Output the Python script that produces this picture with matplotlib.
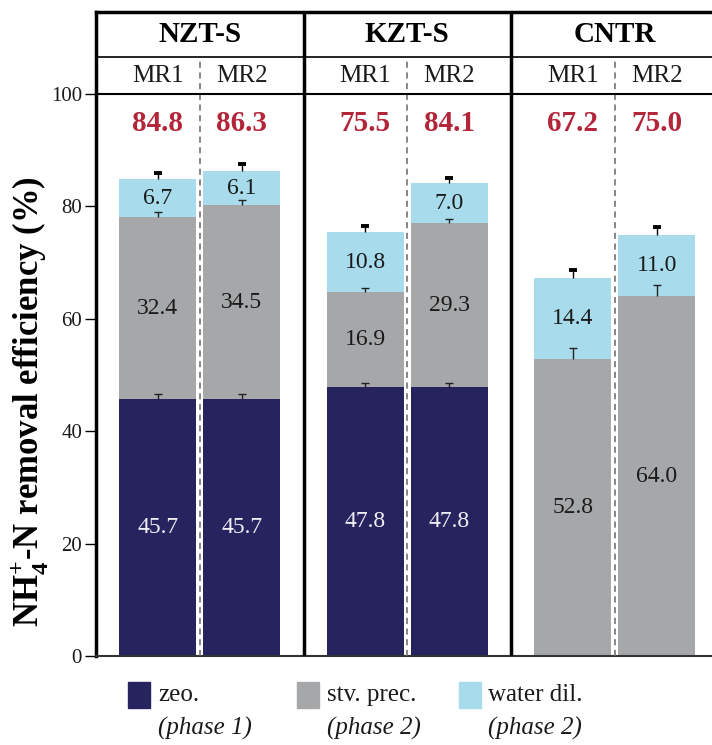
import numpy as np
import matplotlib.pyplot as plt
from matplotlib.patches import Rectangle

plt.rcParams['font.family'] = ['Liberation Serif', 'DejaVu Serif']
plt.rcParams['mathtext.fontset'] = 'custom'
plt.rcParams['mathtext.rm'] = 'Liberation Serif'
plt.rcParams['mathtext.bf'] = 'Liberation Serif:bold'

groups = ['NZT-S', 'KZT-S', 'CNTR']
reactors = ['MR1', 'MR2']

# removal share per step, order: NZT-S MR1, MR2, KZT-S MR1, MR2, CNTR MR1, MR2
zeo = [45.7, 45.7, 47.8, 47.8, 0.0, 0.0]
stv = [32.4, 34.5, 16.9, 29.3, 52.8, 64.0]
water = [6.7, 6.1, 10.8, 7.0, 14.4, 11.0]
totals = [84.8, 86.3, 75.5, 84.1, 67.2, 75.0]

zeo_err = [1.0, 1.0, 0.8, 0.8, 0.0, 0.0]
stv_err = [0.9, 0.9, 0.8, 0.7, 2.0, 2.0]
tot_err = [1.2, 1.2, 1.0, 0.9, 1.4, 1.4]

c_zeo = '#27235f'
c_stv = '#a6a7a9'
c_water = '#a8dcec'
c_red = '#b3263a'

fig = plt.figure(figsize=(7.12, 7.45), dpi=100)
ax = fig.add_axes([96 / 712, 89 / 745, 622.5 / 712, 644 / 745])

ytop = 114.6
yhead = 106.6
bw = 0.371
off = 0.202
cap = 0.02
x = np.array([g + s * off for g in range(3) for s in (-1, 1)])

zeo = np.array(zeo)
stv = np.array(stv)
water = np.array(water)

ax.bar(x, zeo, bw, color=c_zeo, zorder=2)
ax.bar(x, stv, bw, bottom=zeo, color=c_stv, zorder=2)
ax.bar(x, water, bw, bottom=zeo + stv, color=c_water, zorder=2)


def up_err(xs, ys, errs, cap_lw, color):
    # only the upper half of each error bar, T-shaped
    for xi, yi, ei in zip(xs, ys, errs):
        if ei <= 0:
            continue
        ax.vlines(xi, yi, yi + ei, color=color, lw=1, zorder=3)
        ax.hlines(yi + ei, xi - cap, xi + cap, color=color, lw=cap_lw,
                  zorder=3)


up_err(x, zeo, zeo_err, 1, '#222222')
up_err(x, zeo + stv, stv_err, 1, '#222222')
up_err(x, totals, tot_err, 2.8, '#000000')

# segment labels
for i in range(6):
    if zeo[i] > 0:
        ax.text(x[i], zeo[i] / 2, f'{zeo[i]:.1f}', ha='center', va='center',
                color='#eeeef4', fontsize=17, zorder=4)
    ax.text(x[i], zeo[i] + stv[i] / 2, f'{stv[i]:.1f}', ha='center',
            va='center', color='#1a1a1a', fontsize=17, zorder=4)
    ax.text(x[i], zeo[i] + stv[i] + water[i] / 2, f'{water[i]:.1f}',
            ha='center', va='center', color='#1a1a1a', fontsize=17, zorder=4)
    ax.text(x[i], 94.8, f'{totals[i]:.1f}', ha='center', va='center',
            color=c_red, fontsize=21, fontweight='bold')
    ax.text(x[i], 103.3, reactors[i % 2], ha='center', va='center',
            color='#1a1a1a', fontsize=18)

for g, name in enumerate(groups):
    ax.text(g, 110.6, name, ha='center', va='center', fontsize=21,
            fontweight='bold')
    ax.plot([g, g], [0, yhead], color='#666666', lw=1.1,
            linestyle=(0, (4, 3)), zorder=5)

# header grid
for gx in (0.5, 1.5):
    ax.plot([gx, gx], [0, ytop], color='black', lw=2.5, zorder=5,
            solid_capstyle='butt')
ax.axhline(100, color='black', lw=1.5, zorder=5)
ax.axhline(yhead, color='black', lw=1.2, zorder=5)

ax.set_xlim(-0.5, 2.5)
ax.set_ylim(0, ytop)
ax.set_xticks([])
ax.set_yticks(np.arange(0, 101, 20))
ax.tick_params(axis='y', length=8, width=1, labelsize=15, pad=2,
               labelcolor='#1a1a1a')
ax.spines['left'].set_linewidth(2.5)
ax.spines['top'].set_linewidth(2.5)
ax.spines['bottom'].set_linewidth(1.5)
ax.spines['bottom'].set_color('#333333')
ax.spines['right'].set_visible(False)

fig.text(30 / 712, 1 - 402 / 745,
         r'NH$_\mathbf{4}^\mathbf{+}$-N removal efficiency (%)',
         rotation=90, ha='center', va='center', fontsize=25,
         fontweight='bold')

# legend
items = [(c_zeo, 'zeo.', '(phase 1)', 128, 158),
         (c_stv, 'stv. prec.', '(phase 2)', 297, 327),
         (c_water, 'water dil.', '(phase 2)', 459, 488)]
for col, lab, phase, sx, tx in items:
    fig.add_artist(Rectangle((sx / 712, 1 - 708 / 745), 22 / 712, 26 / 745,
                             transform=fig.transFigure, color=col))
    fig.text(tx / 712, 1 - 695 / 745, lab, ha='left', va='center',
             fontsize=18, color='#1a1a1a')
    fig.text(tx / 712, 1 - 728 / 745, phase, ha='left', va='center',
             fontsize=18, color='#1a1a1a', style='italic')

fig.savefig('out.png', dpi=100)
